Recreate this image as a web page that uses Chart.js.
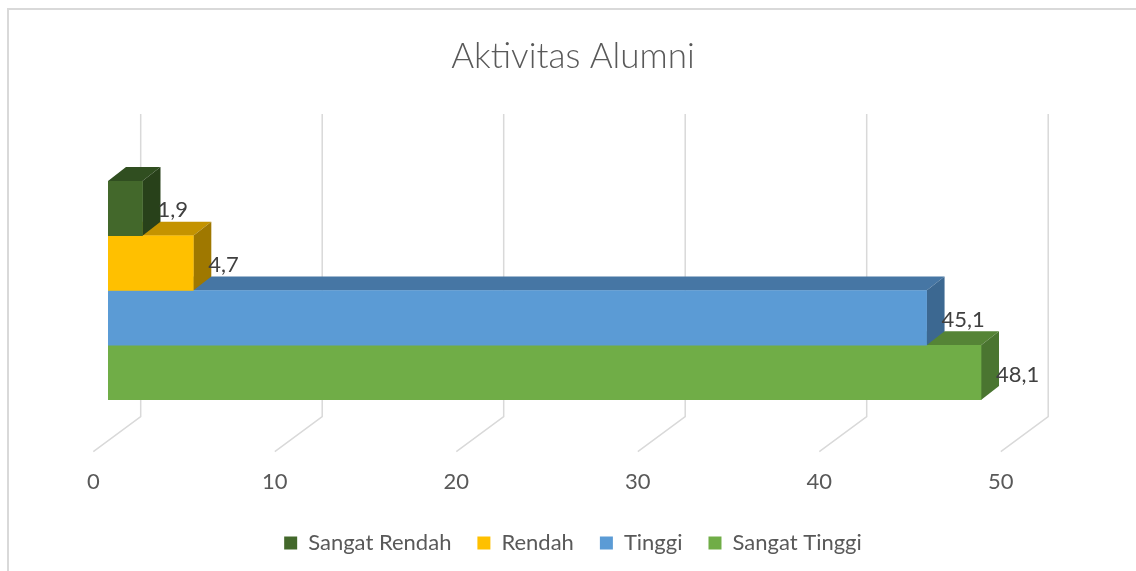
<!DOCTYPE html>
<html>
<head>
<meta charset="utf-8">
<title>Aktivitas Alumni</title>
<script src="https://cdn.jsdelivr.net/npm/chart.js@4.4.1/dist/chart.umd.min.js"></script>
<style>
  html, body { margin: 0; padding: 0; background: #ffffff; }
  #c { display: block; }
</style>
</head>
<body>
<canvas id="c" width="1136" height="571"></canvas>
<script>
// ---- data ----
const chartTitle = 'Aktivitas Alumni';
const categories = ['Aktivitas Alumni'];
const seriesNames = ['Sangat Rendah', 'Rendah', 'Tinggi', 'Sangat Tinggi'];
const seriesValues = [1.9, 4.7, 45.1, 48.1];
const axisMin = 0;
const axisMax = 50;
const axisStep = 10;

// ---- colours: front face, top face, side face ----
const frontColors = ['#43682B', '#FFC000', '#5B9BD5', '#70AD47'];
const topColors   = ['#304E20', '#C49300', '#4676A4', '#558436'];
const sideColors  = ['#28411A', '#9F7800', '#3C6891', '#4A7530'];

// ---- 3D projection settings (pixels) ----
const DEPTH_DX = 18;      // bar depth, horizontal shift
const DEPTH_DY = -14;     // bar depth, vertical shift
const WALL_DX = 32.7;     // back wall offset from the front value line
const FLOOR_DX = -14.7;   // floor front edge offset
const WALL_TOP = 67;      // wall height above the plot area
const WALL_BOTTOM = 16.7; // wall foot below the plot area
const FLOOR_FRONT = 51.7; // floor front edge below the plot area

const FONT = 'Lato, "Open Sans", sans-serif';
const TEXT_SIZE = 22;
const fmt = v => v.toFixed(1).replace('.', ',');

const depth3d = {
  id: 'depth3d',
  beforeDatasetsDraw(chart) {
    const { ctx, chartArea: a, scales: { x } } = chart;
    ctx.save();
    // outer frame
    ctx.strokeStyle = '#D9D9D9';
    ctx.lineWidth = 2;
    ctx.beginPath();
    ctx.moveTo(8, chart.height);
    ctx.lineTo(8, 9);
    ctx.lineTo(chart.width, 9);
    ctx.stroke();

    // back wall + floor gridlines
    ctx.lineWidth = 1.5;
    for (let v = axisMin; v <= axisMax; v += axisStep) {
      const px = x.getPixelForValue(v);
      ctx.beginPath();
      ctx.moveTo(px + WALL_DX, a.top - WALL_TOP);
      ctx.lineTo(px + WALL_DX, a.bottom + WALL_BOTTOM);
      ctx.lineTo(px + FLOOR_DX, a.bottom + FLOOR_FRONT);
      ctx.stroke();
    }

    // top and side faces, lowest bar first so upper bars sit on top
    for (let i = chart.data.datasets.length - 1; i >= 0; i--) {
      if (!chart.isDatasetVisible(i)) continue;
      chart.getDatasetMeta(i).data.forEach(bar => {
        const { x: xe, y, base, height } = bar.getProps(['x', 'y', 'base', 'height'], true);
        const t = y - height / 2;
        const b = y + height / 2;
        ctx.fillStyle = topColors[i];
        ctx.beginPath();
        ctx.moveTo(base, t);
        ctx.lineTo(xe, t);
        ctx.lineTo(xe + DEPTH_DX, t + DEPTH_DY);
        ctx.lineTo(base + DEPTH_DX, t + DEPTH_DY);
        ctx.closePath();
        ctx.fill();

        ctx.fillStyle = sideColors[i];
        ctx.beginPath();
        ctx.moveTo(xe, t);
        ctx.lineTo(xe + DEPTH_DX, t + DEPTH_DY);
        ctx.lineTo(xe + DEPTH_DX, b + DEPTH_DY);
        ctx.lineTo(xe, b);
        ctx.closePath();
        ctx.fill();
      });
    }
    ctx.restore();
  },
  afterDatasetsDraw(chart) {
    const { ctx } = chart;
    ctx.save();
    ctx.font = TEXT_SIZE + 'px ' + FONT;
    ctx.fillStyle = '#404040';
    ctx.textAlign = 'left';
    ctx.textBaseline = 'middle';
    chart.data.datasets.forEach((ds, i) => {
      if (!chart.isDatasetVisible(i)) return;
      chart.getDatasetMeta(i).data.forEach((bar, j) => {
        const { x: xe, y } = bar.getProps(['x', 'y'], true);
        ctx.fillText(fmt(ds.data[j]), xe + 15, y + 2);
      });
    });
    ctx.restore();
  }
};

const datasets = seriesNames.map((name, i) => ({
  label: name,
  data: [seriesValues[i]],
  backgroundColor: frontColors[i],
  borderWidth: 0,
  categoryPercentage: 1,
  barPercentage: 1
}));

new Chart(document.getElementById('c'), {
  type: 'bar',
  data: { labels: categories, datasets },
  plugins: [depth3d],
  options: {
    responsive: false,
    animation: false,
    indexAxis: 'y',
    layout: { padding: { left: 14, right: 4, top: 0, bottom: 7 } },
    scales: {
      x: {
        min: axisMin,
        max: axisMax,
        ticks: {
          stepSize: axisStep,
          padding: 69,
          labelOffset: FLOOR_DX,
          color: '#595959',
          font: { family: FONT, size: TEXT_SIZE }
        },
        grid: { display: false, drawTicks: false },
        border: { display: false },
        afterFit: s => { s.height = 106; }
      },
      y: {
        ticks: { display: false },
        grid: { display: false, drawTicks: false },
        border: { display: false },
        afterFit: s => { s.width = 94; }
      },
      yRight: {
        type: 'linear',
        position: 'right',
        ticks: { display: false },
        grid: { display: false, drawTicks: false },
        border: { display: false },
        afterFit: s => { s.width = 116.5; }
      }
    },
    plugins: {
      title: {
        display: true,
        text: chartTitle,
        color: '#595959',
        font: { family: FONT, size: 35, weight: '300' },
        padding: { top: 35.7, bottom: 103.3 }
      },
      legend: {
        position: 'bottom',
        labels: {
          boxWidth: 13,
          boxHeight: 13,
          padding: 26,
          color: '#595959',
          font: { family: FONT, size: TEXT_SIZE }
        }
      },
      tooltip: { enabled: false }
    }
  }
});
</script>
</body>
</html>
